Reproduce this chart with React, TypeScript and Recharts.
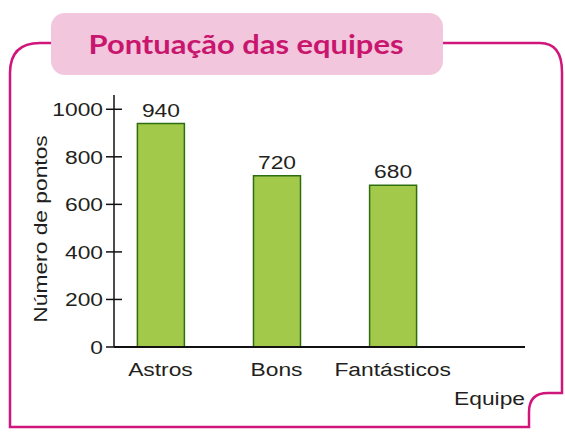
import React from "react";
import { BarChart, Bar, XAxis, YAxis, LabelList, Label } from "recharts";

const teams = ["Astros", "Bons", "Fantásticos"];
const points = [940, 720, 680];
const yTicks = [0, 200, 400, 600, 800, 1000];
const chartTitle = "Pontuação das equipes";
const yTitle = "Número de pontos";
const xTitle = "Equipe";

const data = teams.map((name, i) => ({ idx: i + 1, name, points: points[i] }));

const PINK = "#d0167c";
const TXT = "#231f20";
const FONT = "'Liberation Sans', Arial, sans-serif";
const SX = 1.2;

function WText({ x, y, anchor = "middle", rotate = 0, children, size = 19 }: any) {
  return (
    <text
      transform={`translate(${x},${y}) rotate(${rotate}) scale(${SX},1)`}
      textAnchor={anchor}
      fontFamily={FONT}
      fontSize={size}
      fill={TXT}
    >
      {children}
    </text>
  );
}

const YTick = (props: any) => {
  const { x, y, payload } = props;
  return (
    <g>
      <line x1={x - 8} x2={x + 8} y1={y} y2={y} stroke="#111" strokeWidth={1.5} />
      <WText x={x - 11} y={y + 7} anchor="end">{payload.value}</WText>
    </g>
  );
};

const XTick = (props: any) => {
  const { x, y, payload } = props;
  return <WText x={x} y={y + 29}>{teams[payload.value - 1]}</WText>;
};

const ValueLabel = (props: any) => {
  const { x, y, width, value } = props;
  return <WText x={x + width / 2} y={y - 7}>{value}</WText>;
};

export default function App() {
  return (
    <div style={{ position: "absolute", left: 0, top: 0, width: 565, height: 440, background: "#fff" }}>
      <svg width={565} height={440} style={{ position: "absolute", left: 0, top: 0 }}>
        <path
          d="M 52 43 L 40 43 Q 10 43 10 73 L 10 427 L 529 427 L 529 412 Q 529 393 548 393 L 562 393 L 562 72 Q 562 43 540 43 L 440 43"
          fill="none"
          stroke={PINK}
          strokeWidth={2.5}
        />
        <rect x={51} y={13} width={392} height={62} rx={14} ry={14} fill="#f2c6dc" />
        <text
          x={246}
          y={54}
          textAnchor="middle"
          fontFamily="Lato, 'Noto Sans', sans-serif"
          fontWeight={700}
          fontSize={27}
          fill="#c8166f"
          textLength={315}
          lengthAdjust="spacingAndGlyphs"
        >
          {chartTitle}
        </text>
      </svg>
      <div style={{ position: "absolute", left: 0, top: 0 }}>
        <BarChart width={565} height={440} data={data} margin={{ top: 95, right: 40, bottom: 0, left: 0 }}>
          <XAxis
            type="number"
            dataKey="idx"
            domain={[0.6, 4.14]}
            ticks={[1, 2, 3]}
            tick={<XTick />}
            tickLine={false}
            tickSize={0}
            tickMargin={0}
            height={93}
            axisLine={{ stroke: "#111", strokeWidth: 2 }}
            allowDataOverflow
          >
            <Label
              content={(p: any) => {
                const vb = p.viewBox;
                return <WText x={vb.x + vb.width} y={vb.y + 58} anchor="end">{xTitle}</WText>;
              }}
            />
          </XAxis>
          <YAxis
            type="number"
            domain={[0, 1060]}
            ticks={yTicks}
            width={114}
            tick={<YTick />}
            tickLine={false}
            tickSize={0}
            tickMargin={0}
            axisLine={{ stroke: "#111", strokeWidth: 1.5 }}
          >
            <Label
              content={(p: any) => {
                const vb = p.viewBox;
                return (
                  <WText x={47} y={vb.y + vb.height / 2 + 8} rotate={-90}>
                    {yTitle}
                  </WText>
                );
              }}
            />
          </YAxis>
          <Bar dataKey="points" fill="#a2c94a" stroke="#2f6e10" strokeWidth={1.5} barSize={47} isAnimationActive={false}>
            <LabelList dataKey="points" content={<ValueLabel />} />
          </Bar>
        </BarChart>
      </div>
    </div>
  );
}
